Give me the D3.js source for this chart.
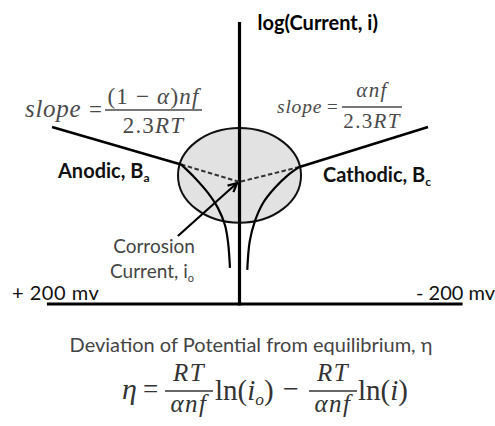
<!DOCTYPE html>
<html>
<head>
<meta charset="utf-8">
<script src="https://cdn.jsdelivr.net/npm/d3@7"></script>
<style>
  body { margin: 0; background: #fff; }
  text { font-family: Lato, "Open Sans", sans-serif; }
  .math { font-family: "Liberation Serif", "DejaVu Serif", serif; }
</style>
</head>
<body>
<div id="chart"></div>
<script>
// potential eta in mV (left is +), current as log(i) in arbitrary units
const potentialAxis = [196, -215]
const currentAxis = [0, 10]
const potentialLabels = ['+ 200 mv', '- 200 mv']
const potentialTicks = [200, -200]

const anodicTafel = [[190.8, 6.28], [59.5, 4.95]]
const cathodicTafel = [[-181.7, 6.28], [-57.8, 4.86]]
const anodicExtrap = [[59.5, 4.95], [0, 4.33]]
const cathodicExtrap = [[-57.8, 4.86], [0, 4.33]]

const anodicCurve = [[59.5, 4.95], [45.3, 4.47], [32.1, 3.94], [21.9, 3.40], [14.8, 2.80], [11.7, 2.20], [9.7, 1.28]]
const cathodicCurve = [[-57.8, 4.86], [-46.7, 4.57], [-33.9, 4.11], [-22.7, 3.58], [-14.7, 2.92], [-9.8, 2.21], [-7.5, 1.21]]

const zoneEta = [62.6, -59.3]
const zoneLogi = [2.88, 6.24]
const arrowPts = [[62.7, 2.41], [2.5, 4.29]]

const W = 495, H = 426
const svg = d3.select('#chart').append('svg').attr('width', W).attr('height', H)

const x = d3.scaleLinear().domain([200, 0, -200]).range([43, 239.5, 447])
const y = d3.scaleLinear().domain([0, 10]).range([304, 22])
const line = d3.line().x(d => x(d[0])).y(d => y(d[1]))
const curve = d3.line().x(d => x(d[0])).y(d => y(d[1])).curve(d3.curveCatmullRom.alpha(0.5))

svg.append('defs').append('marker')
  .attr('id', 'head').attr('viewBox', '0 0 10 10').attr('refX', 9).attr('refY', 5)
  .attr('markerWidth', 5).attr('markerHeight', 5).attr('orient', 'auto')
  .append('path').attr('d', 'M1,1 L9,5 L1,9').attr('fill', 'none').attr('stroke', '#000').attr('stroke-width', 2)

// corrosion zone
svg.append('ellipse')
  .attr('cx', (x(zoneEta[0]) + x(zoneEta[1])) / 2)
  .attr('cy', (y(zoneLogi[0]) + y(zoneLogi[1])) / 2)
  .attr('rx', (x(zoneEta[1]) - x(zoneEta[0])) / 2)
  .attr('ry', (y(zoneLogi[0]) - y(zoneLogi[1])) / 2)
  .attr('fill', '#e2e2e2').attr('stroke', '#111').attr('stroke-width', 2)

// axes
svg.append('line')
  .attr('x1', x(potentialAxis[0])).attr('x2', x(potentialAxis[1]))
  .attr('y1', y(0)).attr('y2', y(0))
  .attr('stroke', '#000').attr('stroke-width', 3.2)
svg.append('line')
  .attr('x1', x(0)).attr('x2', x(0))
  .attr('y1', y(currentAxis[0]) + 1.5).attr('y2', y(currentAxis[1]))
  .attr('stroke', '#000').attr('stroke-width', 3.2)

// tafel lines and extrapolation
;[anodicTafel, cathodicTafel].forEach(d => {
  svg.append('path').attr('d', line(d)).attr('fill', 'none').attr('stroke', '#000').attr('stroke-width', 2.6)
})
;[anodicExtrap, cathodicExtrap].forEach(d => {
  svg.append('path').attr('d', line(d)).attr('fill', 'none').attr('stroke', '#333')
    .attr('stroke-width', 2).attr('stroke-dasharray', '4.5,2.5')
})
;[anodicCurve, cathodicCurve].forEach(d => {
  svg.append('path').attr('d', curve(d)).attr('fill', 'none').attr('stroke', '#000').attr('stroke-width', 2.2)
})

svg.append('path').attr('d', line(arrowPts)).attr('fill', 'none')
  .attr('stroke', '#000').attr('stroke-width', 2.2).attr('marker-end', 'url(#head)')

// labels
svg.append('text').attr('x', x(0) + 18).attr('y', 30)
  .attr('font-size', 20).attr('font-weight', 'bold').attr('fill', '#000').text('log(Current, i)')

const anod = svg.append('text').attr('x', 58).attr('y', 178)
  .attr('font-size', 20).attr('font-weight', 'bold').attr('fill', '#111')
anod.append('tspan').text('Anodic, B')
anod.append('tspan').attr('font-size', 12).attr('dy', 4).text('a')

const cath = svg.append('text').attr('x', 323).attr('y', 182)
  .attr('font-size', 20).attr('font-weight', 'bold').attr('fill', '#111')
cath.append('tspan').text('Cathodic, B')
cath.append('tspan').attr('font-size', 12).attr('dy', 4).text('c')

svg.append('text').attr('x', 154).attr('y', 253).attr('text-anchor', 'middle')
  .attr('font-size', 19).attr('fill', '#444').text('Corrosion')
const cc = svg.append('text').attr('x', 152).attr('y', 278).attr('text-anchor', 'middle')
  .attr('font-size', 19).attr('fill', '#444')
cc.append('tspan').text('Current, i')
cc.append('tspan').attr('font-size', 11).attr('dy', 4).text('o')

svg.selectAll('.plabel').data(potentialTicks).join('text')
  .attr('class', 'plabel')
  .attr('x', d => d > 0 ? 12 : 416).attr('y', 300)
  .attr('font-size', 20).attr('letter-spacing', d => d > 0 ? 0.5 : 0).attr('fill', '#111')
  .text((d, i) => potentialLabels[i])

svg.append('text').attr('x', 251).attr('y', 352).attr('text-anchor', 'middle')
  .attr('font-size', 20).attr('fill', '#444').text('Deviation of Potential from equilibrium, \u03b7')

// math helpers
function seg(t, parts, size) {
  parts.forEach(p => {
    const s = t.append('tspan').text(p[0])
    if (p[1] === 'i') s.attr('font-style', 'italic')
    if (p[1] === 'sub') s.attr('font-style', 'italic').attr('font-size', size * 0.6).attr('dy', 5)
    if (p[1] === 'up') s.attr('dy', -5)
  })
}
function mtext(px, py, parts, size, anchor, color, ls) {
  const t = svg.append('text').attr('class', 'math').attr('x', px).attr('y', py)
    .attr('font-size', size).attr('fill', color).attr('text-anchor', anchor || 'start')
  if (ls) t.attr('letter-spacing', ls)
  seg(t, parts, size)
  return t
}
function frac(x0, x1, barY, num, den, size, color, numY, denY, ls) {
  const cx = (x0 + x1) / 2
  mtext(cx, numY, num, size, 'middle', color, ls)
  mtext(cx, denY, den, size, 'middle', color, ls)
  svg.append('line').attr('x1', x0).attr('x2', x1).attr('y1', barY).attr('y2', barY)
    .attr('stroke', color).attr('stroke-width', 1.4)
}

const mc = '#333'
const sc = '#4a4a4a'
// left slope
mtext(25, 117, [['slope', 'i']], 25, 'start', sc, 0.7)
mtext(89, 117, [['=', '']], 23, 'start', sc)
frac(105, 202, 110, [['(1 \u2212 ', ''], ['\u03b1', 'i'], [')', ''], ['nf', 'i']],
  [['2.3', ''], ['RT', 'i']], 23, sc, 104, 133, 1.2)

// right slope
mtext(277, 113, [['slope', 'i']], 19.5, 'start', sc, 0.8)
mtext(327, 113, [['=', '']], 19, 'start', sc)
frac(342, 402, 107, [['\u03b1nf', 'i']], [['2.3', ''], ['RT', 'i']], 21, sc, 97, 128, 1.3)

// main equation
mtext(122, 399, [['\u03b7', 'i']], 30, 'start', mc)
mtext(143, 398, [['=', '']], 27, 'start', mc)
frac(165, 213, 391, [['RT', 'i']], [['\u03b1nf', 'i']], 25, mc, 381, 412, 1.5)
mtext(215, 400, [['ln(', ''], ['i', 'i'], ['o', 'sub'], [')', 'up']], 29, 'start', mc)
mtext(283, 398, [['\u2212', '']], 28, 'start', mc)
frac(309, 357, 391, [['RT', 'i']], [['\u03b1nf', 'i']], 25, mc, 381, 412, 1.5)
mtext(358, 400, [['ln(', ''], ['i', 'i'], [')', '']], 29, 'start', mc)
</script>
</body>
</html>
